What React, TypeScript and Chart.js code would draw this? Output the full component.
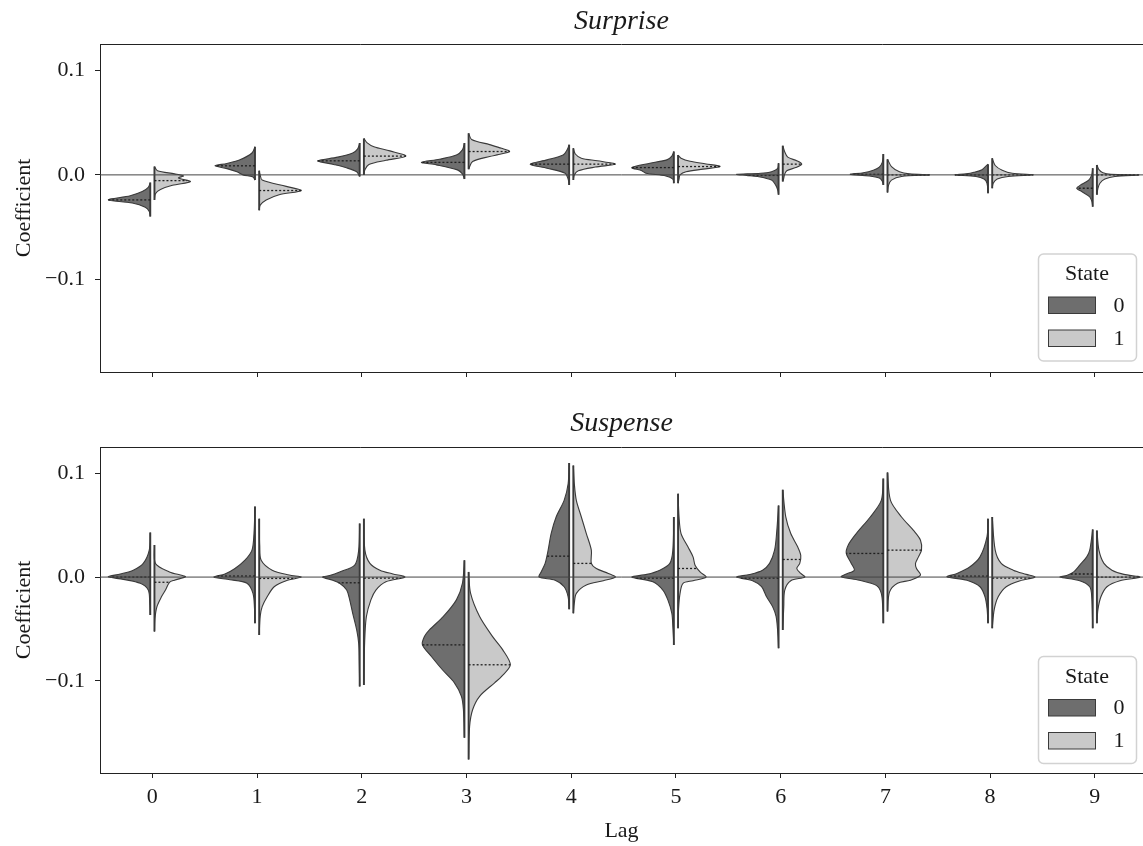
import React, { useEffect, useRef } from 'react';
import { Chart, registerables } from 'chart.js';

Chart.register(...registerables);

// ---------- data ----------
const LAGS = [0, 1, 2, 3, 4, 5, 6, 7, 8, 9];
const Y_TICKS = [-0.1, 0, 0.1];
const STATES = ['0', '1'];
const LEGEND_TITLE = 'State';
const PANEL_TITLES = ['Surprise', 'Suspense'];
const X_LABEL = 'Lag';
const Y_LABEL = 'Coefficient';

// Surprise, state 0 (left halves): coefficient values and density (half-width) profiles
const surprise0Y = [
  [-0.0074, -0.012, -0.016, -0.02, -0.024, -0.027, -0.031, -0.035, -0.04],
  [0.027, 0.021, 0.0145, 0.011, 0.0087, 0.006, 0.003, 0.0, -0.002, -0.005],
  [0.0305, 0.025, 0.021, 0.017, 0.0135, 0.01, 0.007, 0.003, -0.0016],
  [0.0305, 0.024, 0.019, 0.015, 0.012, 0.0096, 0.0048, 0.001, -0.004],
  [0.029, 0.024, 0.019, 0.0144, 0.0103, 0.0064, 0.0016, -0.004, -0.0096],
  [0.0224, 0.018, 0.0144, 0.0112, 0.007, 0.004, 0.0016, -0.001, -0.004, -0.008],
  [0.0112, 0.006, 0.003, 0.0015, 0.0005, -0.0005, -0.0016, -0.005, -0.0096, -0.014, -0.019],
  [0.02, 0.012, 0.0075, 0.0045, 0.002, 0.0005, -0.001, -0.003, -0.006, -0.0096],
  [0.0103, 0.005, 0.0025, 0.001, 0.0, -0.0015, -0.004, -0.008, -0.0176],
  [0.0064, 0.0, -0.005, -0.009, -0.0128, -0.016, -0.021, -0.025, -0.0305],
];
const surprise0D = [
  [0, 2, 8, 20, 42, 18, 5, 1, 0],
  [0, 3, 15, 28, 40, 28, 18, 12, 2, 0],
  [0, 2, 7, 22, 42, 26, 14, 3, 0],
  [0, 2, 8, 25, 43, 28, 7, 2, 0],
  [0, 2, 6, 22, 39, 22, 4, 1, 0],
  [0, 2, 7, 24, 42, 32, 28, 8, 1, 0],
  [0, 1, 7, 18, 42, 32, 21, 7, 3, 1, 0],
  [0, 1, 4, 10, 20, 33, 14, 4, 1, 0],
  [0, 6, 14, 22, 33, 12, 4, 1, 0],
  [0, 1, 4, 11, 16, 11, 3, 1, 0],
];
// Surprise, state 1 (right halves)
const surprise1Y = [
  [0.008, 0.004, 0.001, -0.001, -0.003, -0.0065, -0.01, -0.014, -0.018, -0.024],
  [0.004, 0.0, -0.005, -0.011, -0.015, -0.019, -0.024, -0.029, -0.034],
  [0.035, 0.031, 0.027, 0.023, 0.018, 0.014, 0.01, 0.005, 0.0],
  [0.04, 0.034, 0.029, 0.0255, 0.0224, 0.0195, 0.0176, 0.0128, 0.0055],
  [0.0256, 0.02, 0.016, 0.0135, 0.0103, 0.0075, 0.004, 0.0, -0.0048],
  [0.019, 0.016, 0.013, 0.0105, 0.008, 0.0055, 0.003, 0.0, -0.004, -0.008],
  [0.028, 0.022, 0.017, 0.0135, 0.0103, 0.007, 0.004, 0.001, -0.003, -0.0064],
  [0.015, 0.008, 0.003, 0.001, 0.0, -0.0015, -0.005, -0.01, -0.017],
  [0.016, 0.009, 0.0045, 0.0015, 0.0, -0.0015, -0.004, -0.008, -0.0128],
  [0.0096, 0.005, 0.002, 0.0005, 0.0, -0.0015, -0.004, -0.008, -0.013, -0.019],
];
const surprise1D = [
  [0, 3, 20, 29, 24, 36, 18, 6, 1, 0],
  [0, 1, 3, 27, 42, 20, 7, 1, 0],
  [0, 3, 10, 26, 42, 22, 5, 1, 0],
  [0, 3, 21, 33, 41, 30, 21, 4, 0],
  [0, 2, 8, 24, 42, 22, 5, 1, 0],
  [0, 3, 12, 28, 42, 25, 8, 2, 1, 0],
  [0, 2, 5, 14, 19, 13, 4, 2, 1, 0],
  [0, 4, 12, 22, 42, 14, 4, 1, 0],
  [0, 3, 10, 20, 41, 16, 5, 1, 0],
  [0, 2, 6, 14, 42, 18, 8, 3, 1, 0],
];
const surprise0Median = [-0.024, 0.0087, 0.0135, 0.012, 0.0103, 0.007, -0.0005, 0.0005, 0.0, -0.0128];
const surprise1Median = [-0.0055, -0.015, 0.018, 0.0224, 0.0103, 0.008, 0.0103, 0.0, 0.0, 0.0];

// Suspense, state 0
const suspense0Y = [
  [0.043, 0.026, 0.0132, 0.0067, 0.003, 0.0003, -0.0022, -0.006, -0.0125, -0.025, -0.0365],
  [0.068, 0.042, 0.026, 0.0163, 0.0083, 0.003, 0.0, -0.0025, -0.006, -0.0157, -0.03, -0.0445],
  [0.0516, 0.026, 0.0115, 0.005, 0.0015, 0.0, -0.003, -0.006, -0.0125, -0.022, -0.035, -0.051, -0.064, -0.08, -0.1055],
  [0.0163, -0.006, -0.022, -0.038, -0.051, -0.0574, -0.0654, -0.0766, -0.0894, -0.102, -0.115, -0.128, -0.155],
  [0.11, 0.09, 0.074, 0.058, 0.042, 0.026, 0.0132, 0.005, 0.0, -0.003, -0.0093, -0.019, -0.031],
  [0.058, 0.026, 0.0132, 0.0067, 0.0026, 0.0, -0.0045, -0.0125, -0.022, -0.035, -0.048, -0.0654],
  [0.069, 0.042, 0.026, 0.0132, 0.0067, 0.0025, 0.0, -0.0035, -0.0093, -0.019, -0.0285, -0.038, -0.051, -0.0686],
  [0.095, 0.074, 0.058, 0.042, 0.031, 0.0228, 0.0132, 0.0067, 0.003, 0.0003, -0.003, -0.008, -0.0157, -0.03, -0.0445],
  [0.0564, 0.039, 0.0195, 0.01, 0.0035, 0.0003, -0.003, -0.0093, -0.019, -0.03, -0.0445],
  [0.046, 0.026, 0.0195, 0.0115, 0.005, 0.0015, 0.0, -0.0035, -0.0093, -0.019, -0.0494],
];
const suspense0D = [
  [0, 1, 7, 17, 30, 42, 27, 10, 2, 0.5, 0],
  [0, 1, 3, 10, 20, 30, 41, 25, 8, 2, 0.5, 0],
  [0, 1, 5, 20, 30, 37, 27, 20, 13, 10, 7, 3, 1, 0.5, 0],
  [0, 2, 8, 21, 35, 40, 42, 33, 22, 10, 3, 1, 0],
  [0, 1, 5, 13, 18, 21, 24, 28, 30, 14, 5, 1, 0],
  [0, 1, 4, 14, 27, 42, 21, 11, 6, 2, 1, 0],
  [0, 2, 4, 9, 16, 29, 42, 26, 17, 12, 6, 2.5, 1, 0],
  [0, 2, 13, 27, 35, 37, 32, 29, 37, 42, 24, 7, 2, 0.5, 0],
  [0, 1, 8, 18, 31, 41, 21, 8, 3, 1, 0],
  [0, 3, 6, 13, 19, 26, 32.7, 13, 3, 1, 0],
];
// Suspense, state 1
const suspense1Y = [
  [0.031, 0.0132, 0.005, 0.0015, 0.0003, -0.003, -0.005, -0.0125, -0.019, -0.0285, -0.04, -0.0526],
  [0.0564, 0.03, 0.0163, 0.0067, 0.002, 0.0, -0.0035, -0.0093, -0.019, -0.0285, -0.038, -0.0558],
  [0.0564, 0.026, 0.0132, 0.0067, 0.003, 0.0, -0.0045, -0.0125, -0.022, -0.038, -0.057, -0.08, -0.104],
  [0.005, -0.0157, -0.038, -0.0574, -0.07, -0.0846, -0.0958, -0.102, -0.115, -0.128, -0.144, -0.176],
  [0.1077, 0.09, 0.074, 0.058, 0.042, 0.026, 0.0132, 0.0083, 0.0035, 0.0, -0.0035, -0.0077, -0.0157, -0.025, -0.035],
  [0.0805, 0.058, 0.042, 0.029, 0.0195, 0.0115, 0.005, 0.0, -0.0035, -0.006, -0.0157, -0.031, -0.0494],
  [0.0843, 0.058, 0.042, 0.029, 0.021, 0.0132, 0.0083, 0.0035, 0.0, -0.0035, -0.0125, -0.0285, -0.051],
  [0.101, 0.074, 0.058, 0.045, 0.0356, 0.026, 0.0195, 0.0132, 0.0083, 0.002, -0.003, -0.006, -0.0145, -0.0333],
  [0.058, 0.026, 0.0132, 0.0067, 0.0026, 0.0, -0.0035, -0.0093, -0.019, -0.0314, -0.0494],
  [0.045, 0.026, 0.0132, 0.0067, 0.0026, 0.0, -0.0035, -0.0093, -0.019, -0.0314, -0.0445],
];
const suspense1D = [
  [0, 1, 15, 28, 31, 20, 15, 11, 7, 2.5, 0.5, 0],
  [0, 0.5, 2, 13, 30, 42, 27, 15, 8, 3, 1, 0],
  [0, 1, 6, 16, 29, 41, 22, 12, 7, 2.5, 1, 0.3, 0],
  [0, 2, 11, 24, 34, 41.7, 33, 26, 11, 4, 1, 0],
  [0, 1, 3, 8, 13, 18, 18, 23, 35, 42, 30, 13, 3, 1, 0],
  [0, 1, 3, 10, 15, 17, 22, 28, 15, 5, 2, 0.5, 0],
  [0, 3, 8, 15, 18, 17, 14, 18, 22, 8, 2, 1, 0],
  [0, 3, 14, 26, 33, 34, 31, 28, 29, 33, 23, 10, 2, 0],
  [0, 3, 9, 21, 34, 42.7, 28, 14, 6, 2, 0],
  [0, 2, 7, 15, 27, 43, 23, 10, 4, 1, 0],
];
const suspense0Median = [0.0, 0.001, -0.0055, -0.0654, 0.0202, -0.001, -0.001, 0.0228, 0.001, 0.003];
const suspense1Median = [-0.005, -0.0013, -0.001, -0.0846, 0.0132, 0.0083, 0.017, 0.026, -0.001, 0.0];

// ---------- styling ----------
const SERIF = '"Liberation Serif", "Times New Roman", Times, serif';
const TEXT = '#1a1a1a';
const AXIS = '#222222';
const DARK_FILL = '#6e6e6e';
const LIGHT_FILL = '#c9c9c9';
const EDGE = '#3a3a3a';
const X_MIN = -0.5;
const X_MAX = 9.46;
const Y_MIN = -0.189;
const Y_MAX = 0.1255;
const GAP = 0.02;
const DENSITY_SCALE = 1 / 104.7;

function widthAt(ys: number[], ds: number[], v: number): number {
  for (let i = 0; i < ys.length - 1; i++) {
    const a = ys[i], b = ys[i + 1];
    if ((v <= a && v >= b) || (v >= a && v <= b)) {
      if (a === b) return Math.max(ds[i], ds[i + 1]);
      const t = (v - a) / (b - a);
      return ds[i] + t * (ds[i + 1] - ds[i]);
    }
  }
  return 0;
}

function halfDatasets(lag: number, ys: number[], ds: number[], side: number, fillColor: string, median: number) {
  const edge = lag + side * GAP;
  const poly = ys.map((y, i) => ({ x: edge + side * ds[i] * DENSITY_SCALE, y }));
  const vline = [
    { x: edge, y: ys[0] },
    { x: edge, y: ys[ys.length - 1] },
  ];
  const mw = widthAt(ys, ds, median);
  const mline = [
    { x: edge, y: median },
    { x: edge + side * mw * DENSITY_SCALE, y: median },
  ];
  return [
    {
      type: 'line', data: poly, fill: 'shape', backgroundColor: fillColor, borderColor: EDGE,
      borderWidth: 1.1, tension: 0.3, pointRadius: 0, order: 3,
    },
    {
      type: 'line', data: vline, fill: false, borderColor: EDGE, borderWidth: 1.9,
      pointRadius: 0, order: 2,
    },
    {
      type: 'line', data: mline, fill: false, borderColor: '#1f1f1f', borderWidth: 1.3,
      borderDash: [2, 2], pointRadius: 0, order: 1,
    },
  ];
}

function buildDatasets(y0: number[][], d0: number[][], y1: number[][], d1: number[][], m0: number[], m1: number[]) {
  const out: any[] = [];
  LAGS.forEach((lag, i) => {
    out.push(...halfDatasets(lag, y0[i], d0[i], -1, DARK_FILL, m0[i]));
    out.push(...halfDatasets(lag, y1[i], d1[i], 1, LIGHT_FILL, m1[i]));
  });
  out.push({
    type: 'line', data: [{ x: X_MIN, y: 0 }, { x: X_MAX, y: 0 }], fill: false,
    borderColor: '#444444', borderWidth: 1, pointRadius: 0, order: 0,
  });
  return out;
}

const framePlugin = {
  id: 'frameTop',
  afterDraw(chart: any) {
    const { ctx, chartArea: a } = chart;
    ctx.save();
    ctx.strokeStyle = AXIS;
    ctx.lineWidth = 1;
    const t = Math.round(a.top) + 0.5;
    ctx.beginPath();
    ctx.moveTo(a.left, t);
    ctx.lineTo(a.right, t);
    ctx.stroke();
    ctx.restore();
  },
};

function legendPlugin(bottomOffset: number) {
  return {
    id: 'stateLegend',
    afterDraw(chart: any) {
      const { ctx, chartArea: a } = chart;
      const w = 98, h = 107;
      const right = a.right - 7;
      const bottom = a.bottom - bottomOffset;
      const left = right - w, top = bottom - h;
      ctx.save();
      ctx.beginPath();
      ctx.roundRect(left + 0.5, top + 0.5, w, h, 5);
      ctx.fillStyle = 'rgba(255,255,255,0.85)';
      ctx.fill();
      ctx.strokeStyle = '#d2d2d2';
      ctx.lineWidth = 1.5;
      ctx.stroke();
      ctx.fillStyle = TEXT;
      ctx.font = `22px ${SERIF}`;
      ctx.textAlign = 'center';
      ctx.textBaseline = 'middle';
      ctx.fillText(LEGEND_TITLE, left + 49, top + 21);
      const fills = [DARK_FILL, LIGHT_FILL];
      STATES.forEach((s, i) => {
        const py = top + 43.5 + i * 33;
        ctx.fillStyle = fills[i];
        ctx.fillRect(left + 10.5, py, 47, 16.5);
        ctx.strokeStyle = EDGE;
        ctx.lineWidth = 1;
        ctx.strokeRect(left + 10.5, py, 47, 16.5);
        ctx.fillStyle = TEXT;
        ctx.fillText(s, left + 81, py + 9);
      });
      ctx.restore();
    },
  };
}

function fmtY(v: number): string {
  const s = Math.abs(v).toFixed(1);
  return v < -1e-9 ? '\u2212' + s : s;
}

function makeConfig(opts: {
  datasets: any[]; title: string; titlePad: { top: number; bottom: number };
  showXLabels: boolean; xHeight: number; legendBottom: number;
}): any {
  return {
    type: 'line',
    data: { datasets: opts.datasets },
    options: {
      animation: false,
      responsive: false,
      events: [],
      layout: { padding: 0 },
      plugins: {
        legend: { display: false },
        tooltip: { enabled: false },
        title: {
          display: true,
          fullSize: false,
          text: opts.title,
          color: TEXT,
          font: { family: SERIF, size: 28, style: 'italic', weight: 'normal', lineHeight: 1.2 },
          padding: opts.titlePad,
        },
      },
      scales: {
        x: {
          type: 'linear',
          min: X_MIN,
          max: X_MAX,
          afterBuildTicks: (s: any) => { s.ticks = LAGS.map((v) => ({ value: v })); },
          afterFit: (s: any) => { s.height = opts.xHeight; },
          ticks: {
            display: opts.showXLabels,
            color: TEXT,
            font: { family: SERIF, size: 22 },
            padding: 6,
            maxRotation: 0,
            autoSkip: false,
            callback: (v: number) => String(v),
          },
          grid: { drawOnChartArea: false, drawTicks: true, tickLength: 5, tickColor: AXIS, tickWidth: 1 },
          border: { display: true, color: AXIS, width: 1 },
          title: {
            display: opts.showXLabels,
            text: X_LABEL,
            color: TEXT,
            font: { family: SERIF, size: 22 },
            padding: { top: 0, bottom: 2 },
          },
        },
        y: {
          type: 'linear',
          min: Y_MIN,
          max: Y_MAX,
          afterBuildTicks: (s: any) => { s.ticks = Y_TICKS.map((v) => ({ value: v })); },
          afterFit: (s: any) => { s.width = 100; },
          ticks: {
            color: TEXT,
            font: { family: SERIF, size: 22 },
            padding: 10,
            callback: (v: number) => fmtY(v),
          },
          grid: { drawOnChartArea: false, drawTicks: true, tickLength: 5, tickColor: AXIS, tickWidth: 1 },
          border: { display: true, color: AXIS, width: 1 },
          title: {
            display: true,
            text: Y_LABEL,
            color: TEXT,
            font: { family: SERIF, size: 22 },
            padding: { top: 11, bottom: 0 },
          },
        },
      },
    },
    plugins: [framePlugin, legendPlugin(opts.legendBottom)],
  };
}

export default function App() {
  const topRef = useRef<HTMLCanvasElement>(null);
  const botRef = useRef<HTMLCanvasElement>(null);

  useEffect(() => {
    document.body.style.margin = '0';
    const top = new Chart(topRef.current as HTMLCanvasElement, makeConfig({
      datasets: buildDatasets(surprise0Y, surprise0D, surprise1Y, surprise1D, surprise0Median, surprise1Median),
      title: PANEL_TITLES[0],
      titlePad: { top: 5, bottom: 5.4 },
      showXLabels: false,
      xHeight: 28,
      legendBottom: 11.5,
    }));
    const bot = new Chart(botRef.current as HTMLCanvasElement, makeConfig({
      datasets: buildDatasets(suspense0Y, suspense0D, suspense1Y, suspense1D, suspense0Median, suspense1Median),
      title: PANEL_TITLES[1],
      titlePad: { top: 7, bottom: 6.4 },
      showXLabels: true,
      xHeight: 73,
      legendBottom: 10,
    }));
    return () => { top.destroy(); bot.destroy(); };
  }, []);

  return (
    <div style={{ position: 'relative', width: 1143, height: 846, background: '#ffffff', overflow: 'hidden' }}>
      <canvas ref={topRef} width={1143} height={400} style={{ position: 'absolute', left: 0, top: 0 }} />
      <canvas ref={botRef} width={1143} height={446} style={{ position: 'absolute', left: 0, top: 400 }} />
    </div>
  );
}
